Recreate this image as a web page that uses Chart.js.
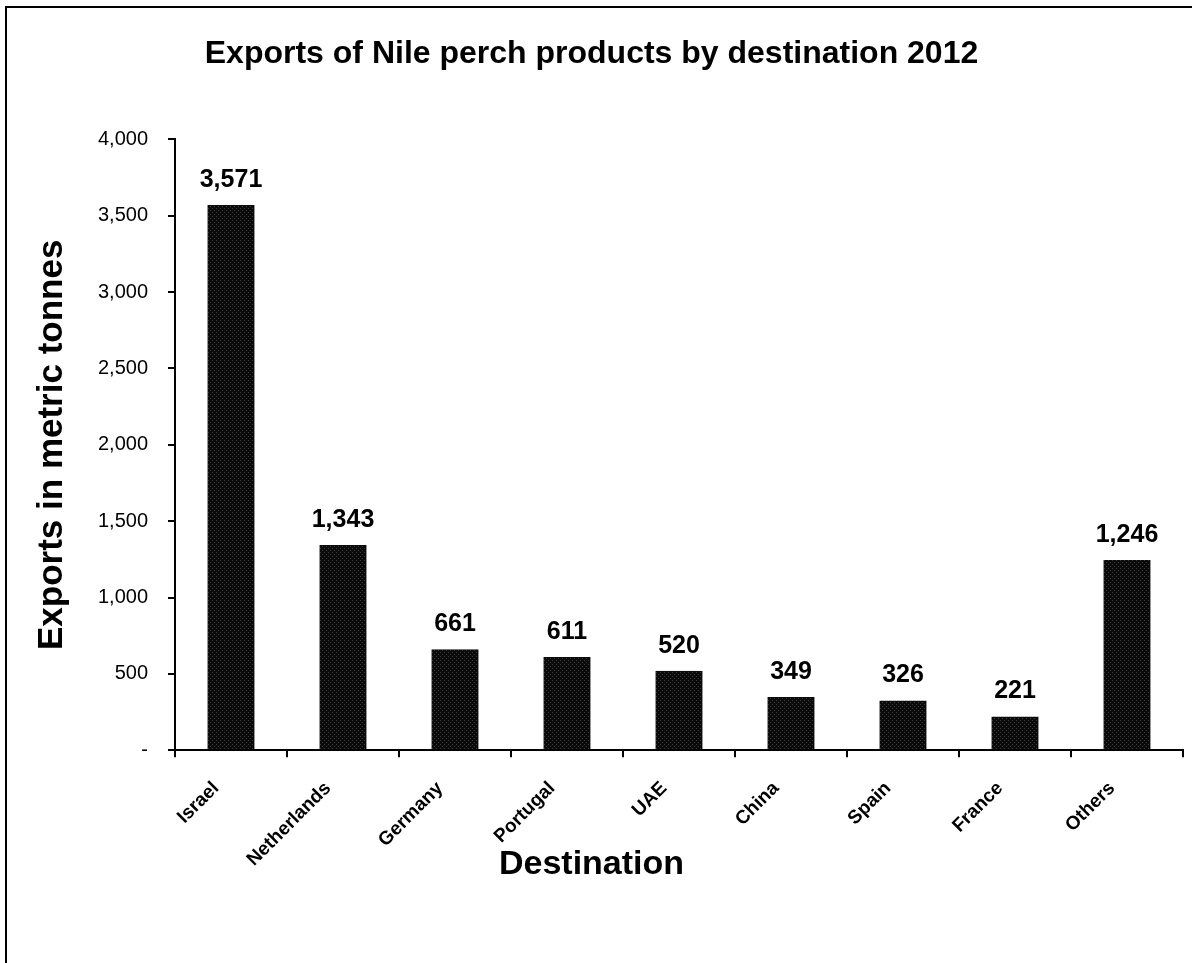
<!DOCTYPE html>
<html>
<head>
<meta charset="utf-8">
<script src="https://cdn.jsdelivr.net/npm/chart.js@4"></script>
<style>
  html, body { margin: 0; padding: 0; background: #fff; }
  #wrap { position: relative; width: 1192px; height: 963px; overflow: hidden; }
  #frame { position: absolute; left: 5px; top: 6px; width: 1300px; height: 1100px;
           border-top: 2px solid #000; border-left: 2px solid #000; }
  #chart { position: absolute; left: 0; top: 0; }
</style>
</head>
<body>
<div id="wrap">
  <div id="frame"></div>
  <canvas id="chart" width="1192" height="963"></canvas>
</div>
<script>
// Data
const destinations = ['Israel', 'Netherlands', 'Germany', 'Portugal', 'UAE', 'China', 'Spain', 'France', 'Others'];
const exportsTonnes = [3571, 1343, 661, 611, 520, 349, 326, 221, 1246];
const yTicks = [0, 500, 1000, 1500, 2000, 2500, 3000, 3500, 4000];

const FONT = 'Arial, "Liberation Sans", sans-serif';

// dotted dark fill like the original bars
function barPattern() {
  const c = document.createElement('canvas');
  c.width = 4; c.height = 4;
  const g = c.getContext('2d');
  g.fillStyle = '#0b0b0b';
  g.fillRect(0, 0, 4, 4);
  g.fillStyle = '#3a3a3a';
  g.fillRect(0, 0, 1, 1);
  g.fillRect(2, 2, 1, 1);
  return g.createPattern(c, 'repeat');
}

// value labels above bars
const valueLabels = {
  id: 'valueLabels',
  afterDatasetsDraw(chart) {
    const ctx = chart.ctx;
    const meta = chart.getDatasetMeta(0);
    ctx.save();
    ctx.font = 'bold 25px ' + FONT;
    ctx.fillStyle = '#000';
    ctx.textAlign = 'center';
    ctx.textBaseline = 'alphabetic';
    meta.data.forEach((bar, i) => {
      ctx.fillText(exportsTonnes[i].toLocaleString('en-US'), bar.x, bar.y - 18);
    });
    ctx.restore();
  }
};

const ctx = document.getElementById('chart').getContext('2d');
new Chart(ctx, {
  type: 'bar',
  data: {
    labels: destinations,
    datasets: [{
      data: exportsTonnes,
      backgroundColor: barPattern(),
      borderColor: '#9a9a9a',
      borderWidth: { left: 1, right: 1, top: 0, bottom: 0 },
      borderSkipped: false,
      categoryPercentage: 1,
      barPercentage: 0.43
    }]
  },
  options: {
    responsive: false,
    animation: false,
    layout: { padding: { left: 0, right: 9, top: 0, bottom: 0 } },
    plugins: {
      legend: { display: false },
      tooltip: { enabled: false },
      title: {
        display: true,
        text: 'Exports of Nile perch products by destination 2012',
        color: '#000',
        font: { family: FONT, size: 32, weight: 'bold' },
        padding: { top: 35, bottom: 66 }
      },
      // x axis title, centred on the whole chart like the original
      subtitle: {
        display: true,
        position: 'bottom',
        text: 'Destination',
        color: '#000',
        font: { family: FONT, size: 34, weight: 'bold' },
        padding: { top: -56, bottom: 78 }
      }
    },
    scales: {
      x: {
        offset: true,
        grid: { display: true, drawOnChartArea: false, offset: true, tickLength: 7, color: '#000', lineWidth: 2 },
        border: { display: true, color: '#000', width: 2 },
        ticks: {
          color: '#000',
          font: { family: FONT, size: 19, weight: 'bold' },
          minRotation: 45,
          maxRotation: 45,
          padding: 20,
          labelOffset: -15
        },
        afterFit(scale) { scale.height = 150; }
      },
      y: {
        min: 0,
        max: 4000,
        afterBuildTicks(scale) { scale.ticks = yTicks.map(v => ({ value: v })); },
        grid: { display: true, drawOnChartArea: false, tickLength: 7, color: '#000', lineWidth: 2 },
        border: { display: true, color: '#000', width: 2 },
        ticks: {
          color: '#000',
          font: { family: FONT, size: 20 },
          padding: 20,
          callback: v => v === 0 ? '-' : v.toLocaleString('en-US')
        },
        title: {
          display: true,
          text: 'Exports in metric tonnes',
          color: '#000',
          font: { family: FONT, size: 35, weight: 'bold' },
          padding: { top: 31, bottom: 0 }
        },
        afterFit(scale) { scale.width = 175; }
      }
    }
  },
  plugins: [valueLabels]
});
</script>
</body>
</html>
